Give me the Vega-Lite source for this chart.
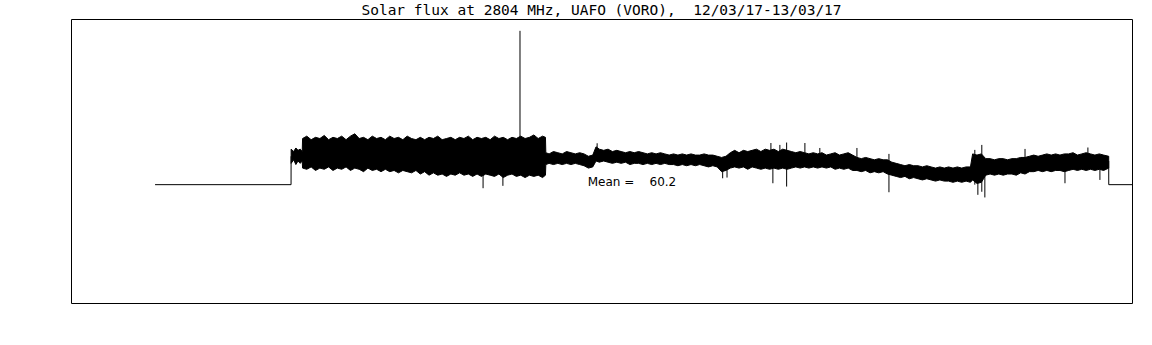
{
  "$schema": "https://vega.github.io/schema/vega-lite/v6.json",
  "width": 1061,
  "height": 284,
  "autosize": {"type": "none"},
  "padding": {"left": 71, "top": 19, "right": 20, "bottom": 42},
  "background": "white",
  "title": {
    "text": "Solar flux at 2804 MHz, UAFO (VORO), \u00a012/03/17-13/03/17",
    "font": "DejaVu Sans Mono",
    "fontSize": 14.5,
    "fontWeight": "normal",
    "color": "black",
    "anchor": "middle",
    "offset": 1
  },
  "datasets": {
    "band": [
      {"t": "2017-03-12T23:40:50Z", "lo": 59, "hi": 65},
      {"t": "2017-03-12T23:42:00Z", "lo": 60.5, "hi": 64},
      {"t": "2017-03-12T23:43:00Z", "lo": 58.5, "hi": 65.5},
      {"t": "2017-03-12T23:44:00Z", "lo": 60, "hi": 64.5},
      {"t": "2017-03-12T23:45:00Z", "lo": 59, "hi": 65},
      {"t": "2017-03-12T23:45:55Z", "lo": 60, "hi": 64},
      {"t": "2017-03-12T23:46:05Z", "lo": 57, "hi": 69.5},
      {"t": "2017-03-12T23:48:00Z", "lo": 56.5, "hi": 70.5},
      {"t": "2017-03-12T23:50:00Z", "lo": 57.5, "hi": 69},
      {"t": "2017-03-12T23:52:00Z", "lo": 56, "hi": 70},
      {"t": "2017-03-12T23:54:00Z", "lo": 57, "hi": 69.5},
      {"t": "2017-03-12T23:56:00Z", "lo": 56.5, "hi": 70.8},
      {"t": "2017-03-12T23:58:00Z", "lo": 57.5, "hi": 69},
      {"t": "2017-03-13T00:00:00Z", "lo": 56, "hi": 70},
      {"t": "2017-03-13T00:02:00Z", "lo": 57, "hi": 69.5},
      {"t": "2017-03-13T00:04:00Z", "lo": 56.5, "hi": 70.5},
      {"t": "2017-03-13T00:06:00Z", "lo": 57.5, "hi": 69},
      {"t": "2017-03-13T00:08:00Z", "lo": 56, "hi": 70.5},
      {"t": "2017-03-13T00:10:00Z", "lo": 57, "hi": 71.5},
      {"t": "2017-03-13T00:12:00Z", "lo": 56.5, "hi": 69.5},
      {"t": "2017-03-13T00:14:00Z", "lo": 55.5, "hi": 70},
      {"t": "2017-03-13T00:16:00Z", "lo": 57, "hi": 69},
      {"t": "2017-03-13T00:18:00Z", "lo": 56, "hi": 70.5},
      {"t": "2017-03-13T00:20:00Z", "lo": 56.5, "hi": 69.5},
      {"t": "2017-03-13T00:22:00Z", "lo": 55.5, "hi": 70},
      {"t": "2017-03-13T00:24:00Z", "lo": 56.5, "hi": 69},
      {"t": "2017-03-13T00:26:00Z", "lo": 55.5, "hi": 70.5},
      {"t": "2017-03-13T00:28:00Z", "lo": 56, "hi": 69.5},
      {"t": "2017-03-13T00:30:00Z", "lo": 55, "hi": 70},
      {"t": "2017-03-13T00:32:00Z", "lo": 56, "hi": 69},
      {"t": "2017-03-13T00:34:00Z", "lo": 55.5, "hi": 70.5},
      {"t": "2017-03-13T00:36:00Z", "lo": 55, "hi": 69.5},
      {"t": "2017-03-13T00:38:00Z", "lo": 56, "hi": 69},
      {"t": "2017-03-13T00:40:00Z", "lo": 54.5, "hi": 70},
      {"t": "2017-03-13T00:42:00Z", "lo": 55.5, "hi": 69},
      {"t": "2017-03-13T00:44:00Z", "lo": 54, "hi": 70},
      {"t": "2017-03-13T00:46:00Z", "lo": 55, "hi": 69.5},
      {"t": "2017-03-13T00:48:00Z", "lo": 54, "hi": 70.5},
      {"t": "2017-03-13T00:50:00Z", "lo": 54.5, "hi": 69},
      {"t": "2017-03-13T00:52:00Z", "lo": 53.5, "hi": 69.5},
      {"t": "2017-03-13T00:54:00Z", "lo": 54.5, "hi": 70},
      {"t": "2017-03-13T00:56:00Z", "lo": 54, "hi": 69},
      {"t": "2017-03-13T00:58:00Z", "lo": 55, "hi": 70},
      {"t": "2017-03-13T01:00:00Z", "lo": 54, "hi": 69.5},
      {"t": "2017-03-13T01:02:00Z", "lo": 54.5, "hi": 70.5},
      {"t": "2017-03-13T01:04:00Z", "lo": 53.5, "hi": 69},
      {"t": "2017-03-13T01:06:00Z", "lo": 54.5, "hi": 70},
      {"t": "2017-03-13T01:08:00Z", "lo": 53.5, "hi": 69.5},
      {"t": "2017-03-13T01:10:00Z", "lo": 54.5, "hi": 70},
      {"t": "2017-03-13T01:12:00Z", "lo": 54, "hi": 69},
      {"t": "2017-03-13T01:14:00Z", "lo": 53.5, "hi": 70.5},
      {"t": "2017-03-13T01:16:00Z", "lo": 54.5, "hi": 69.5},
      {"t": "2017-03-13T01:18:00Z", "lo": 53, "hi": 70},
      {"t": "2017-03-13T01:20:00Z", "lo": 54, "hi": 69},
      {"t": "2017-03-13T01:22:00Z", "lo": 54.5, "hi": 70},
      {"t": "2017-03-13T01:24:00Z", "lo": 53.5, "hi": 69.5},
      {"t": "2017-03-13T01:26:00Z", "lo": 54, "hi": 70.5},
      {"t": "2017-03-13T01:28:00Z", "lo": 53, "hi": 69.5},
      {"t": "2017-03-13T01:30:00Z", "lo": 54, "hi": 70},
      {"t": "2017-03-13T01:32:00Z", "lo": 53.5, "hi": 71},
      {"t": "2017-03-13T01:34:00Z", "lo": 54, "hi": 69.5},
      {"t": "2017-03-13T01:36:00Z", "lo": 53, "hi": 70.5},
      {"t": "2017-03-13T01:37:20Z", "lo": 54, "hi": 70},
      {"t": "2017-03-13T01:37:30Z", "lo": 58.5, "hi": 63.5},
      {"t": "2017-03-13T01:39:00Z", "lo": 59, "hi": 63},
      {"t": "2017-03-13T01:41:00Z", "lo": 58.5, "hi": 64},
      {"t": "2017-03-13T01:43:00Z", "lo": 59, "hi": 63.5},
      {"t": "2017-03-13T01:45:00Z", "lo": 58.5, "hi": 63},
      {"t": "2017-03-13T01:47:00Z", "lo": 59, "hi": 64},
      {"t": "2017-03-13T01:49:00Z", "lo": 58.5, "hi": 63.5},
      {"t": "2017-03-13T01:51:00Z", "lo": 59, "hi": 63},
      {"t": "2017-03-13T01:53:00Z", "lo": 58.5, "hi": 63.5},
      {"t": "2017-03-13T01:55:00Z", "lo": 58, "hi": 63},
      {"t": "2017-03-13T01:57:00Z", "lo": 57, "hi": 62},
      {"t": "2017-03-13T01:59:00Z", "lo": 57.5, "hi": 62.5},
      {"t": "2017-03-13T02:00:30Z", "lo": 60, "hi": 66},
      {"t": "2017-03-13T02:02:00Z", "lo": 59.5, "hi": 65},
      {"t": "2017-03-13T02:04:00Z", "lo": 60, "hi": 64.5},
      {"t": "2017-03-13T02:06:00Z", "lo": 59.5, "hi": 65},
      {"t": "2017-03-13T02:08:00Z", "lo": 59, "hi": 64},
      {"t": "2017-03-13T02:10:00Z", "lo": 59.5, "hi": 64.5},
      {"t": "2017-03-13T02:12:00Z", "lo": 59, "hi": 64},
      {"t": "2017-03-13T02:14:00Z", "lo": 59.5, "hi": 63.5},
      {"t": "2017-03-13T02:16:00Z", "lo": 58.5, "hi": 64},
      {"t": "2017-03-13T02:18:00Z", "lo": 59, "hi": 63.5},
      {"t": "2017-03-13T02:20:00Z", "lo": 59, "hi": 64},
      {"t": "2017-03-13T02:22:00Z", "lo": 58.5, "hi": 63.5},
      {"t": "2017-03-13T02:24:00Z", "lo": 59, "hi": 63},
      {"t": "2017-03-13T02:26:00Z", "lo": 58.5, "hi": 63.5},
      {"t": "2017-03-13T02:28:00Z", "lo": 59, "hi": 63},
      {"t": "2017-03-13T02:30:00Z", "lo": 58.5, "hi": 63.5},
      {"t": "2017-03-13T02:32:00Z", "lo": 59, "hi": 63},
      {"t": "2017-03-13T02:34:00Z", "lo": 58.5, "hi": 62.5},
      {"t": "2017-03-13T02:36:00Z", "lo": 58.5, "hi": 63},
      {"t": "2017-03-13T02:38:00Z", "lo": 58, "hi": 62.5},
      {"t": "2017-03-13T02:40:00Z", "lo": 58.5, "hi": 63},
      {"t": "2017-03-13T02:42:00Z", "lo": 58, "hi": 62.5},
      {"t": "2017-03-13T02:44:00Z", "lo": 58.5, "hi": 63},
      {"t": "2017-03-13T02:46:00Z", "lo": 58, "hi": 62.5},
      {"t": "2017-03-13T02:48:00Z", "lo": 58.5, "hi": 62.5},
      {"t": "2017-03-13T02:50:00Z", "lo": 58, "hi": 63},
      {"t": "2017-03-13T02:52:00Z", "lo": 57.5, "hi": 62.5},
      {"t": "2017-03-13T02:54:00Z", "lo": 58, "hi": 62.5},
      {"t": "2017-03-13T02:56:00Z", "lo": 57.5, "hi": 62},
      {"t": "2017-03-13T02:58:00Z", "lo": 55.5, "hi": 61.5},
      {"t": "2017-03-13T03:00:00Z", "lo": 56, "hi": 62},
      {"t": "2017-03-13T03:02:00Z", "lo": 57, "hi": 63.5},
      {"t": "2017-03-13T03:04:00Z", "lo": 57.5, "hi": 64.5},
      {"t": "2017-03-13T03:06:00Z", "lo": 57, "hi": 63.5},
      {"t": "2017-03-13T03:08:00Z", "lo": 57.5, "hi": 64.5},
      {"t": "2017-03-13T03:10:00Z", "lo": 56.5, "hi": 64},
      {"t": "2017-03-13T03:12:00Z", "lo": 57.5, "hi": 64.5},
      {"t": "2017-03-13T03:14:00Z", "lo": 57, "hi": 65},
      {"t": "2017-03-13T03:16:00Z", "lo": 56.5, "hi": 64},
      {"t": "2017-03-13T03:18:00Z", "lo": 57, "hi": 65},
      {"t": "2017-03-13T03:20:00Z", "lo": 56.5, "hi": 64.5},
      {"t": "2017-03-13T03:22:00Z", "lo": 57, "hi": 65},
      {"t": "2017-03-13T03:24:00Z", "lo": 56.5, "hi": 64},
      {"t": "2017-03-13T03:26:00Z", "lo": 57, "hi": 65},
      {"t": "2017-03-13T03:28:00Z", "lo": 56.5, "hi": 64.5},
      {"t": "2017-03-13T03:30:00Z", "lo": 57, "hi": 64},
      {"t": "2017-03-13T03:32:00Z", "lo": 57.5, "hi": 63.5},
      {"t": "2017-03-13T03:34:00Z", "lo": 57, "hi": 64},
      {"t": "2017-03-13T03:36:00Z", "lo": 57.5, "hi": 63.5},
      {"t": "2017-03-13T03:38:00Z", "lo": 57, "hi": 63},
      {"t": "2017-03-13T03:40:00Z", "lo": 57.5, "hi": 63.5},
      {"t": "2017-03-13T03:42:00Z", "lo": 57, "hi": 63},
      {"t": "2017-03-13T03:44:00Z", "lo": 57.5, "hi": 63.5},
      {"t": "2017-03-13T03:46:00Z", "lo": 57, "hi": 62.5},
      {"t": "2017-03-13T03:48:00Z", "lo": 57.5, "hi": 63},
      {"t": "2017-03-13T03:50:00Z", "lo": 56.5, "hi": 63.5},
      {"t": "2017-03-13T03:52:00Z", "lo": 57, "hi": 62.5},
      {"t": "2017-03-13T03:54:00Z", "lo": 56.5, "hi": 63},
      {"t": "2017-03-13T03:56:00Z", "lo": 57, "hi": 63.5},
      {"t": "2017-03-13T03:58:00Z", "lo": 56, "hi": 62.5},
      {"t": "2017-03-13T04:00:00Z", "lo": 56, "hi": 61.5},
      {"t": "2017-03-13T04:02:00Z", "lo": 55.5, "hi": 61},
      {"t": "2017-03-13T04:04:00Z", "lo": 56, "hi": 61.5},
      {"t": "2017-03-13T04:06:00Z", "lo": 55, "hi": 61},
      {"t": "2017-03-13T04:08:00Z", "lo": 55.5, "hi": 60.5},
      {"t": "2017-03-13T04:10:00Z", "lo": 55, "hi": 61},
      {"t": "2017-03-13T04:12:00Z", "lo": 55.5, "hi": 60.5},
      {"t": "2017-03-13T04:14:00Z", "lo": 54.5, "hi": 60.5},
      {"t": "2017-03-13T04:16:00Z", "lo": 54, "hi": 59.5},
      {"t": "2017-03-13T04:18:00Z", "lo": 53.5, "hi": 59},
      {"t": "2017-03-13T04:20:00Z", "lo": 53, "hi": 58.5},
      {"t": "2017-03-13T04:22:00Z", "lo": 53.5, "hi": 58},
      {"t": "2017-03-13T04:24:00Z", "lo": 52.5, "hi": 58.5},
      {"t": "2017-03-13T04:26:00Z", "lo": 53, "hi": 58},
      {"t": "2017-03-13T04:28:00Z", "lo": 52.5, "hi": 58},
      {"t": "2017-03-13T04:30:00Z", "lo": 52, "hi": 57.5},
      {"t": "2017-03-13T04:32:00Z", "lo": 52.5, "hi": 58},
      {"t": "2017-03-13T04:34:00Z", "lo": 52, "hi": 57.5},
      {"t": "2017-03-13T04:36:00Z", "lo": 51.5, "hi": 57},
      {"t": "2017-03-13T04:38:00Z", "lo": 52, "hi": 57.5},
      {"t": "2017-03-13T04:40:00Z", "lo": 51.5, "hi": 57},
      {"t": "2017-03-13T04:42:00Z", "lo": 51.5, "hi": 57.5},
      {"t": "2017-03-13T04:44:00Z", "lo": 51, "hi": 57},
      {"t": "2017-03-13T04:46:00Z", "lo": 51.5, "hi": 57.5},
      {"t": "2017-03-13T04:48:00Z", "lo": 51, "hi": 57},
      {"t": "2017-03-13T04:50:00Z", "lo": 51.5, "hi": 57.5},
      {"t": "2017-03-13T04:52:00Z", "lo": 51, "hi": 57.5},
      {"t": "2017-03-13T04:53:00Z", "lo": 52, "hi": 63},
      {"t": "2017-03-13T04:55:00Z", "lo": 50.5, "hi": 62.5},
      {"t": "2017-03-13T04:57:00Z", "lo": 51, "hi": 63},
      {"t": "2017-03-13T04:59:00Z", "lo": 54, "hi": 61},
      {"t": "2017-03-13T05:01:00Z", "lo": 54.5, "hi": 61},
      {"t": "2017-03-13T05:03:00Z", "lo": 54, "hi": 60.5},
      {"t": "2017-03-13T05:05:00Z", "lo": 54.5, "hi": 61},
      {"t": "2017-03-13T05:07:00Z", "lo": 54, "hi": 61},
      {"t": "2017-03-13T05:09:00Z", "lo": 54.5, "hi": 60.5},
      {"t": "2017-03-13T05:11:00Z", "lo": 54.5, "hi": 61},
      {"t": "2017-03-13T05:13:00Z", "lo": 54, "hi": 61},
      {"t": "2017-03-13T05:15:00Z", "lo": 55, "hi": 61.5},
      {"t": "2017-03-13T05:17:00Z", "lo": 54.5, "hi": 61.5},
      {"t": "2017-03-13T05:19:00Z", "lo": 55.5, "hi": 62},
      {"t": "2017-03-13T05:21:00Z", "lo": 55.5, "hi": 62.5},
      {"t": "2017-03-13T05:23:00Z", "lo": 56, "hi": 62},
      {"t": "2017-03-13T05:25:00Z", "lo": 55.5, "hi": 62.5},
      {"t": "2017-03-13T05:27:00Z", "lo": 56, "hi": 63},
      {"t": "2017-03-13T05:29:00Z", "lo": 55.5, "hi": 62.5},
      {"t": "2017-03-13T05:31:00Z", "lo": 56, "hi": 63},
      {"t": "2017-03-13T05:33:00Z", "lo": 56, "hi": 62.5},
      {"t": "2017-03-13T05:35:00Z", "lo": 55.5, "hi": 63},
      {"t": "2017-03-13T05:37:00Z", "lo": 56, "hi": 63},
      {"t": "2017-03-13T05:39:00Z", "lo": 56.5, "hi": 63.5},
      {"t": "2017-03-13T05:41:00Z", "lo": 56, "hi": 62.5},
      {"t": "2017-03-13T05:43:00Z", "lo": 56.5, "hi": 63},
      {"t": "2017-03-13T05:45:00Z", "lo": 56, "hi": 63.5},
      {"t": "2017-03-13T05:47:00Z", "lo": 56.5, "hi": 63},
      {"t": "2017-03-13T05:49:00Z", "lo": 56, "hi": 62.5},
      {"t": "2017-03-13T05:51:00Z", "lo": 56.5, "hi": 63},
      {"t": "2017-03-13T05:53:00Z", "lo": 56, "hi": 62.5},
      {"t": "2017-03-13T05:55:20Z", "lo": 57, "hi": 62}
    ],
    "spikes": [
      {"t": "2017-03-13T01:08:45Z", "lo": 48.5, "hi": 60},
      {"t": "2017-03-13T01:17:50Z", "lo": 49.5, "hi": 60},
      {"t": "2017-03-13T01:25:40Z", "lo": 62, "hi": 115},
      {"t": "2017-03-13T02:01:00Z", "lo": 62, "hi": 67.5},
      {"t": "2017-03-13T02:58:30Z", "lo": 52.7, "hi": 59},
      {"t": "2017-03-13T03:00:30Z", "lo": 53, "hi": 59},
      {"t": "2017-03-13T03:20:36Z", "lo": 60, "hi": 67.6},
      {"t": "2017-03-13T03:21:30Z", "lo": 50.6, "hi": 60},
      {"t": "2017-03-13T03:24:42Z", "lo": 60, "hi": 66.8},
      {"t": "2017-03-13T03:27:48Z", "lo": 49.2, "hi": 67.8},
      {"t": "2017-03-13T03:36:10Z", "lo": 60, "hi": 67.6},
      {"t": "2017-03-13T03:43:00Z", "lo": 60, "hi": 65.5},
      {"t": "2017-03-13T04:00:00Z", "lo": 58, "hi": 65.5},
      {"t": "2017-03-13T04:14:40Z", "lo": 46.8, "hi": 63},
      {"t": "2017-03-13T04:54:00Z", "lo": 50, "hi": 64.7},
      {"t": "2017-03-13T04:55:24Z", "lo": 45.7, "hi": 60},
      {"t": "2017-03-13T04:57:12Z", "lo": 47, "hi": 66.8},
      {"t": "2017-03-13T04:58:36Z", "lo": 44.6, "hi": 60},
      {"t": "2017-03-13T05:17:00Z", "lo": 58, "hi": 65.1},
      {"t": "2017-03-13T05:35:18Z", "lo": 50.6, "hi": 60},
      {"t": "2017-03-13T05:45:48Z", "lo": 58, "hi": 65.7},
      {"t": "2017-03-13T05:51:18Z", "lo": 52, "hi": 60}
    ],
    "flat": [
      {"t": "2017-03-12T22:38:30Z", "v": 50, "s": 1},
      {"t": "2017-03-12T23:40:48Z", "v": 50, "s": 1},
      {"t": "2017-03-12T23:40:49Z", "v": 62, "s": 1},
      {"t": "2017-03-13T05:55:20Z", "v": 60, "s": 2},
      {"t": "2017-03-13T05:55:21Z", "v": 50, "s": 2},
      {"t": "2017-03-13T06:06:00Z", "v": 50, "s": 2}
    ],
    "mean": [
      {"t": "2017-03-13T01:56:40Z", "v": 51, "label": "Mean = \u00a0\u00a0\u00a060.2"}
    ]
  },
  "layer": [
    {
      "data": {"name": "band"},
      "mark": {"type": "area", "interpolate": "linear", "color": "black", "stroke": "black", "strokeWidth": 1, "fillOpacity": 1},
      "encoding": {
        "x": {
          "field": "t", "type": "temporal",
          "scale": {"type": "utc", "domain": [1489356000000, 1489385160000], "nice": false},
          "axis": {"aria": false, "title": "UT", "format": "%H:%M", "grid": false, "domain": false, "tickCount": {"interval": "hour", "step": 1}, "offset": -6, "tickSize": 6, "labelPadding": 8, "labelFlush": false, "labelOverlap": false, "tickColor": "black", "labelColor": "black", "labelFont": "DejaVu Sans", "labelFontSize": 12, "titleFont": "DejaVu Sans", "titleFontSize": 12, "titleFontWeight": "normal", "titleColor": "black"}
        },
        "y": {
          "field": "lo", "type": "quantitative",
          "scale": {"domain": [0, 120], "nice": false, "zero": false},
          "axis": {"aria": false, "title": "Flux, SFU", "values": [0, 20, 40, 60, 80, 100, 120], "grid": false, "domain": false, "offset": -20, "tickSize": 20, "labelPadding": 4, "tickColor": "black", "labelColor": "black", "labelFont": "DejaVu Sans", "labelFontSize": 12, "titleFont": "DejaVu Sans", "titleFontSize": 12, "titleFontWeight": "normal", "titleColor": "black"}
        },
        "y2": {"field": "hi"}
      }
    },
    {
      "data": {"name": "spikes"},
      "mark": {"type": "rule", "color": "black", "strokeWidth": 1},
      "encoding": {
        "x": {"field": "t", "type": "temporal", "axis": null},
        "y": {"field": "lo", "type": "quantitative", "axis": null},
        "y2": {"field": "hi"}
      }
    },
    {
      "data": {"name": "flat"},
      "mark": {"type": "line", "color": "black", "strokeWidth": 1},
      "encoding": {
        "x": {"field": "t", "type": "temporal", "axis": null},
        "y": {"field": "v", "type": "quantitative", "axis": null},
        "detail": {"field": "s", "type": "nominal"}
      }
    },
    {
      "data": {"name": "mean"},
      "mark": {"type": "text", "align": "left", "baseline": "middle", "font": "DejaVu Sans", "fontSize": 12, "color": "black"},
      "encoding": {
        "x": {"field": "t", "type": "temporal", "axis": null},
        "y": {"field": "v", "type": "quantitative", "axis": null},
        "text": {"field": "label"}
      }
    }
  ],
  "config": {
    "aria": false,
    "view": {"stroke": "black", "strokeWidth": 1}
  }
}
